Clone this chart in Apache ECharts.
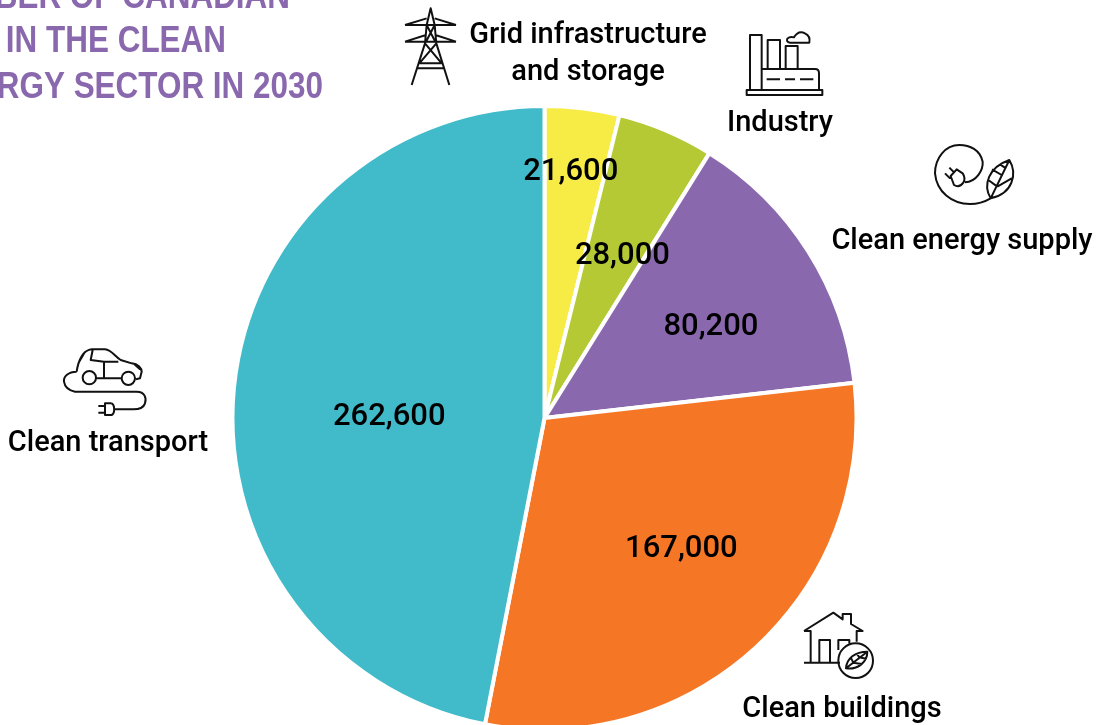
<!DOCTYPE html>
<html><head><meta charset="utf-8">
<style>html,body{margin:0;padding:0;background:#fff}#c{width:1096px;height:725px}</style>
<script src="https://cdn.jsdelivr.net/npm/echarts@6/dist/echarts.min.js"></script>
</head><body><div id="c"></div>
<script>
const categories = ["Grid infrastructure\nand storage","Industry","Clean energy supply","Clean buildings","Clean transport"];
const jobs = [21600,28000,80200,167000,262600];
const colors = ["#F7EC46","#B5C934","#8A68AE","#F57726","#41BAC9"];
const titleLines = ["NUMBER OF CANADIAN","JOBS IN THE CLEAN","ENERGY SECTOR IN 2030"];
const titlePlaces = [[290,-2],[226,42],[323,88]];
const labelOffsets = [[7,-88],[16,-15],[32,-6],[29,14],[3,14]];
const namePlaces = [[588,54],[780,124],[962,242],[842,710],[108,444]];
const FONT = "Roboto";

const icons = [
 {id:'tower',x:400,y:0,d:"M35 255 L75 130 L80 75 L92 25 L104 75 L109 130 L148 255 M15 75 L80 55 M168 75 L104 55 M15 75 H168 M15 125 L78 105 M168 125 L106 105 M15 125 H168 M80 75 L106 125 M104 75 L78 125 M75 130 L125 190 M109 130 L58 190 M58 190 H125 M50 205 H135"},
 {id:'factory',x:400,y:0,d:"M1050 270 V105 H1085 V270 M1103 205 V120 H1140 V205 M1157 205 V138 H1193 V205 M1085 207 H1245 Q1257 207 1257 220 V270 M1040 270 H1267 V285 H1040 Z M1100 238 H1140 M1155 238 H1185 M1200 238 H1240 M1170 128 Q1158 126 1162 116 Q1170 108 1182 112 Q1195 90 1215 100 Q1232 108 1228 128 Z"},
 {id:'energy',x:920,y:130,d:"M135 157 C170 155 190 120 188 95 C180 60 150 45 118 45 C75 45 45 85 45 130 C50 185 95 222 150 222 C175 222 195 215 212 205 M212 205 C188 165 205 112 268 90 C292 130 280 190 212 205 Z M212 205 L268 90 M232 170 L205 150 M232 170 L275 145 M245 135 L216 118 M258 115 L240 103 M92 138 L110 118 L128 130 Q138 145 130 158 Q118 175 102 165 Z M75 130 L90 145 M88 113 L103 128"},
 {id:'car',x:50,y:340,d:"M80 95 C85 60 100 30 125 28 L165 28 C185 30 195 50 212 60 L245 70 C265 72 275 85 275 95 L270 115 L258 118 M138 115 H215 M162 65 V115 M128 30 L122 60 L162 65 L205 65 M105 35 L85 70 M98 113 A20 20 0 1 0 138 113 A20 20 0 1 0 98 113 M215 115 A20 20 0 1 0 255 115 A20 20 0 1 0 215 115 M80 95 C55 95 40 110 42 125 C45 145 60 152 75 155 H260 C285 155 290 175 285 190 C280 205 265 208 250 208 H190 M185 190 H165 V225 H185 C195 220 195 195 185 190 M165 198 H145 M165 218 H145 M250 70 L270 88"},
 {id:'house',x:790,y:600,d:"M42 93 L130 38 L158 58 V42 H183 V72 L218 93 H200 V125 M42 93 H62 V188 M42 188 H150 M88 188 V120 H120 V188 M145 150 V120 H178 V130 M145 182 A52 52 0 1 0 249 182 A52 52 0 1 0 145 182 Z M168 205 C170 175 195 155 232 155 C232 185 205 210 168 205 Z M168 205 L232 155 M190 188 L182 172 M190 188 L215 192 M208 172 L200 160 M208 172 L228 176"}
];
icons.forEach(i=>echarts.graphic.registerShape(i.id,echarts.graphic.extendPath(i.d,{})));
const chart = echarts.init(document.getElementById('c'),null,{renderer:'canvas'});
chart.setOption({
  animation:false,
  backgroundColor:'#fff',
  graphic:[
    ...titleLines.map((t,k)=>({type:'text',x:titlePlaces[k][0],y:titlePlaces[k][1],scaleX:0.85,style:{text:t,align:'right',verticalAlign:'middle',fontFamily:"Liberation Sans",fontWeight:'bold',fontSize:37,fill:'#8A68AE'}})),
    ...icons.map(i=>({type:'group',x:i.x,y:i.y,scaleX:1/3,scaleY:1/3,children:[{type:i.id,shape:{},style:{fill:null,stroke:'#111',lineWidth:6,lineJoin:'round'}}]})),
    ...categories.map((c,k)=>({type:'text',x:namePlaces[k][0],y:namePlaces[k][1],style:{text:c,align:'center',verticalAlign:'middle',fontFamily:FONT,fontWeight:500,fontSize:29,lineHeight:37,fill:'#000'}}))
  ],
  series:[{type:'pie',center:[544.5,418],radius:[0,312],startAngle:90,clockwise:true,
    itemStyle:{borderColor:'#fff',borderWidth:4},
    label:{show:true,position:'inside',formatter:p=>p.value.toLocaleString('en-US'),fontFamily:FONT,fontWeight:500,fontSize:31,color:'#000'},
    labelLine:{show:false},
    emphasis:{disabled:true},
    data:categories.map((c,k)=>({name:c,value:jobs[k],itemStyle:{color:colors[k]},label:{offset:labelOffsets[k]}}))
  }]
});
</script></body></html>
